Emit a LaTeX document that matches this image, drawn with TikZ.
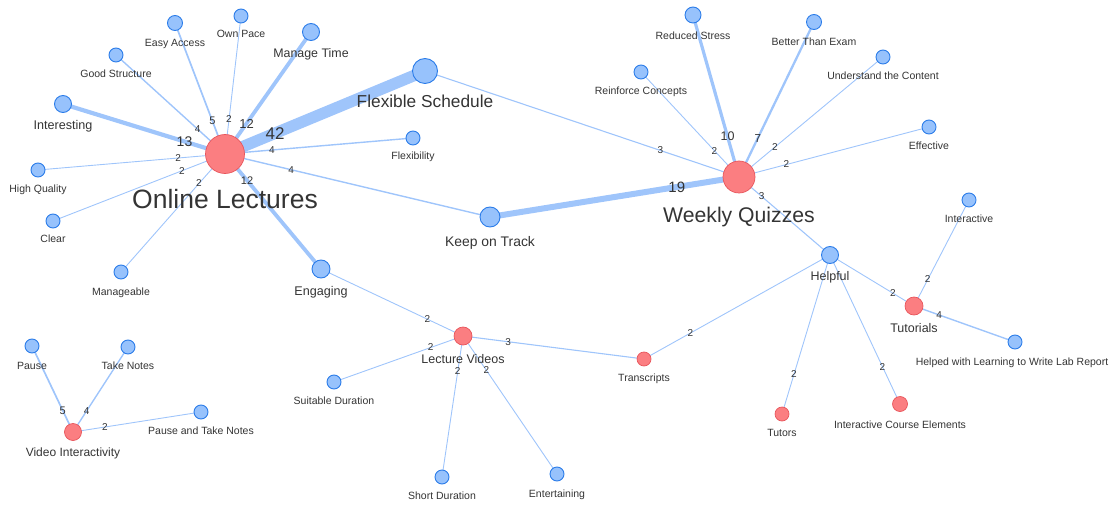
\documentclass[tikz,border=0pt]{standalone}
\usepackage{fontspec}
\setmainfont{Liberation Sans}
\pgfdeclarelayer{bg}
\pgfsetlayers{bg,main}
\definecolor{bfill}{HTML}{97C2FC}
\definecolor{bbord}{HTML}{2B7CE9}
\definecolor{rfill}{HTML}{FB7E81}
\definecolor{rbord}{HTML}{E8555B}
\definecolor{edgec}{HTML}{9FC5FB}
\definecolor{txt}{HTML}{343434}
\newcommand{\bnd}[3]{\node[bn, minimum size=#3*2pt] (#1) at (#2) {};}
\newcommand{\rnd}[3]{\node[rn, minimum size=#3*2pt] (#1) at (#2) {};}
\newcommand{\lb}[4]{\node[lbl, font=\fontsize{#3}{#3}\selectfont] (#1l) at (#2) {#4};}
\newcommand{\edg}[5]{\draw[ed, line width=#4pt] (#1.center) -- node[el, font=\fontsize{#5}{#5}\selectfont] (#1#2n) {#3} (#2.center);}
\begin{document}
\begin{tikzpicture}[x=1pt,y=-1pt,
  bn/.style={circle, draw=bbord, fill=bfill, line width=0.9pt, inner sep=0pt},
  rn/.style={circle, draw=rbord, fill=rfill, line width=0.7pt, inner sep=0pt},
  lbl/.style={anchor=base, text=txt, inner sep=0pt},
  ed/.style={draw=edgec, line cap=butt},
  el/.style={text=txt, inner sep=0pt, pos=0.25}]
\useasboundingbox (0,0) rectangle (1115,505);
% nodes
\rnd{OL}{225,154}{19.5}
\rnd{WQ}{739,177}{16}
\bnd{FS}{425,71}{12.5}
\bnd{MT}{311,32}{8.5}
\bnd{EA}{175,23}{7.5}
\bnd{OP}{241,16}{7}
\bnd{GS}{116,55}{7}
\bnd{IN}{63,104}{8.5}
\bnd{HQ}{38,170}{7}
\bnd{CL}{53,221}{7}
\bnd{MA}{121,272}{7}
\bnd{FL}{413,138}{7}
\bnd{KT}{490,217}{10}
\bnd{EN}{321,269}{9}
\rnd{LV}{463,336}{9}
\rnd{TR}{644,359}{7}
\bnd{SD}{334,382}{7}
\bnd{SH}{442,477}{7}
\bnd{ET}{557,474}{7}
\bnd{RS}{693,15}{8}
\bnd{BE}{814,22}{7.5}
\bnd{UC}{883,57}{7}
\bnd{RC}{641,72}{7}
\bnd{EF}{929,127}{7}
\bnd{HE}{830,255}{8.5}
\bnd{IA}{969,200}{7}
\rnd{TU}{914,306}{9}
\bnd{HL}{1015,342}{7}
\rnd{TS}{782,414}{7}
\rnd{IC}{900,404}{7.5}
\rnd{VI}{73,432}{8.5}
\bnd{PA}{32,346}{7}
\bnd{TN}{128,347}{7}
\bnd{PT}{201,412}{7}
% labels
\lb{OL}{225,208}{26.5}{Online Lectures}
\lb{WQ}{739,222}{21.2}{Weekly Quizzes}
\lb{FS}{425,108}{17.3}{Flexible Schedule}
\lb{KT}{490,246.5}{13.9}{Keep on Track}
\lb{MT}{311,57.5}{12.4}{Manage Time}
\lb{IN}{63,130}{12.6}{Interesting}
\lb{EN}{321,295.7}{12.6}{Engaging}
\lb{LV}{463,363.3}{12.5}{Lecture Videos}
\lb{HE}{830,280.7}{12.5}{Helpful}
\lb{TU}{914,332.7}{12.5}{Tutorials}
\lb{VI}{73,456.7}{12}{Video Interactivity}
\lb{EA}{175,46.7}{10.5}{Easy Access}
\lb{OP}{241,37.7}{10.5}{Own Pace}
\lb{GS}{116,77.3}{10.5}{Good Structure}
\lb{HQ}{38,192.7}{10.5}{High Quality}
\lb{CL}{53,242.7}{10.5}{Clear}
\lb{MA}{121,295}{10.5}{Manageable}
\lb{FL}{413,159.3}{10.5}{Flexibility}
\lb{SD}{334,404.3}{10.5}{Suitable Duration}
\lb{TR}{644,381.5}{10.5}{Transcripts}
\lb{SH}{442,499}{10.5}{Short Duration}
\lb{ET}{557,497}{10.5}{Entertaining}
\lb{RS}{693,40}{10.5}{Reduced Stress}
\lb{BE}{814,46}{10.5}{Better Than Exam}
\lb{UC}{883,80}{10.5}{Understand the Content}
\lb{RC}{641,94.3}{10.5}{Reinforce Concepts}
\lb{EF}{929,150}{10.5}{Effective}
\lb{IA}{969,222.7}{10.5}{Interactive}
\lb{HL}{1012,365.3}{10.5}{Helped with Learning to Write Lab Report}
\lb{TS}{782,436.7}{10.5}{Tutors}
\lb{IC}{900,428.3}{10.5}{Interactive Course Elements}
\lb{PA}{32,369.3}{10.5}{Pause}
\lb{TN}{128,369.3}{10.5}{Take Notes}
\lb{PT}{201,434}{10.5}{Pause and Take Notes}
% edges
\begin{pgfonlayer}{bg}
\edg{OL}{FS}{42}{11.5}{17}
\edg{OL}{MT}{12}{3.8}{13}
\edg{OL}{OP}{2}{0.9}{10}
\edg{OL}{EA}{5}{1.7}{11}
\edg{OL}{GS}{4}{1.4}{10}
\edg{OL}{IN}{13}{4.2}{14}
\edg{OL}{HQ}{2}{0.9}{10}
\edg{OL}{CL}{2}{0.9}{10}
\edg{OL}{MA}{2}{0.9}{10}
\draw[ed, line width=3.8pt] (OL.center) -- node[el, pos=0.23, font=\fontsize{11}{11}\selectfont] (OLENn) {12} (EN.center);
\edg{OL}{FL}{4}{1.4}{10}
\edg{OL}{KT}{4}{1.4}{10}
\edg{WQ}{FS}{3}{1.1}{10}
\edg{WQ}{KT}{19}{6}{15}
\edg{WQ}{RC}{2}{0.9}{10}
\edg{WQ}{RS}{10}{3.2}{12.5}
\edg{WQ}{BE}{7}{2.3}{11.5}
\edg{WQ}{UC}{2}{0.9}{10}
\edg{WQ}{EF}{2}{0.9}{10}
\edg{WQ}{HE}{3}{1.1}{10}
\edg{TU}{HE}{2}{0.9}{10}
\edg{TU}{IA}{2}{0.9}{10}
\edg{TU}{HL}{4}{1.4}{10}
\edg{TS}{HE}{2}{0.9}{10}
\edg{IC}{HE}{2}{0.9}{10}
\edg{TR}{HE}{2}{0.9}{10}
\edg{LV}{EN}{2}{0.9}{10}
\edg{LV}{TR}{3}{1.1}{10}
\edg{LV}{SD}{2}{0.9}{10}
\edg{LV}{SH}{2}{0.9}{10}
\edg{LV}{ET}{2}{0.9}{10}
\edg{VI}{PA}{5}{1.7}{11}
\edg{VI}{TN}{4}{1.4}{10}
\edg{VI}{PT}{2}{0.9}{10}
\end{pgfonlayer}
\end{tikzpicture}
\end{document}
